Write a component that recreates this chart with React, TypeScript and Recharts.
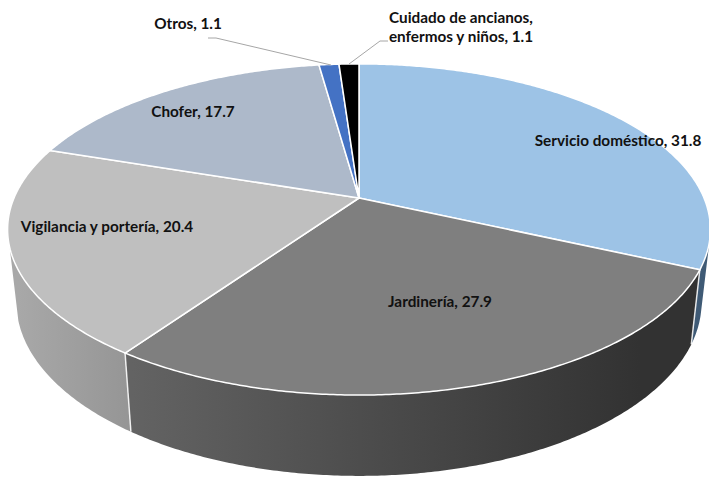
import { PieChart, Pie } from "recharts";

const categories = [
  "Servicio doméstico",
  "Jardinería",
  "Vigilancia y portería",
  "Chofer",
  "Otros",
  "Cuidado de ancianos, enfermos y niños",
];
const shares = [31.8, 27.9, 20.4, 17.7, 1.1, 1.1];
const topColors = ["#9DC3E6", "#7F7F7F", "#BFBFBF", "#ADB9CA", "#4472C4", "#000000"];
const wallColors = ["#3F5A75", "url(#wallDark)", "url(#wallLight)", "#6B7380", "#2A4577", "#000000"];

// where each label sits, same order as categories
const labelSpots = [
  { x: 618, y: 146 },
  { x: 440, y: 307 },
  { x: 107, y: 232 },
  { x: 193, y: 117 },
  { x: 188, y: 29 },
  { x: 461, y: 23 },
];

const table = categories.map((name, i) => ({
  name,
  value: shares[i],
  fill: topColors[i],
  wall: wallColors[i],
}));

// the top of the pie is a tilted disc seen in perspective, so the apex is not the ellipse centre
const APEX_X = 359;
const APEX_Y = 198;
const RX = 345;
const RY = 159.6;
const DEPTH = 0.19;
// bottom rim of the wall
const BASE_Y = 269;
const BASE_SX = 0.975;
const BASE_SY = 1.05;
// part of the wall that faces the viewer, degrees clockwise from 12 o'clock
const WALL_FROM = 105;
const WALL_TO = 253;

const rim = (deg: number, base = false) => {
  const t = (deg * Math.PI) / 180;
  const x = Math.sin(t);
  const y = Math.cos(t);
  const s = 1 / (1 + DEPTH * y);
  if (base) return [APEX_X + RX * x * s * BASE_SX, BASE_Y - RY * y * s * BASE_SY];
  return [APEX_X + RX * x * s, APEX_Y - RY * y * s];
};

const arc = (from: number, to: number, base = false) => {
  const n = Math.max(2, Math.ceil(Math.abs(to - from) * 2));
  const pts = [];
  for (let i = 0; i <= n; i++) pts.push(rim(from + ((to - from) * i) / n, base));
  return pts;
};

const toPath = (pts: number[][]) =>
  pts.map((p, i) => `${i ? "L" : "M"}${p[0].toFixed(2)} ${p[1].toFixed(2)}`).join(" ");

const TopFace = (props: any) => {
  const from = 90 - props.startAngle;
  const to = 90 - props.endAngle;
  const d = `M${APEX_X} ${APEX_Y} ` + toPath(arc(from, to)).replace("M", "L") + " Z";
  return <path d={d} fill={props.fill} stroke="#fff" strokeWidth={1.5} strokeLinejoin="round" />;
};

const WallFace = (props: any) => {
  const from = Math.max(90 - props.startAngle, WALL_FROM);
  const to = Math.min(90 - props.endAngle, WALL_TO);
  if (to <= from) return <g />;
  const pts = [...arc(from, to), ...arc(to, from, true)];
  const a = rim(from);
  const b = rim(from, true);
  return (
    <g>
      <path d={toPath(pts) + " Z"} fill={props.wall ?? props.payload?.wall} />
      {from > WALL_FROM && (
        <line x1={a[0]} y1={a[1]} x2={b[0]} y2={b[1]} stroke="#fff" strokeOpacity={0.85} strokeWidth={1.5} />
      )}
    </g>
  );
};

const leaderLines: Record<number, string> = {
  4: "208,38 216,38 331,65",
  5: "388,41 380,41 349,64",
};

const SliceLabel = (props: any) => {
  const spot = labelSpots[props.index];
  const common = {
    textAnchor: "middle" as const,
    fontFamily: "Lato, sans-serif",
    fontSize: 15.3,
    fontWeight: 700,
    fill: "#111",
  };
  if (props.index === 5) {
    return (
      <text {...common} x={spot.x} y={spot.y}>
        <tspan x={spot.x}>Cuidado de ancianos,</tspan>
        <tspan x={spot.x} dy={19}>{`enfermos y niños, ${shares[5]}`}</tspan>
      </text>
    );
  }
  return (
    <text {...common} x={spot.x} y={spot.y}>
      {`${categories[props.index]}, ${shares[props.index]}`}
    </text>
  );
};

const SliceLeader = (props: any) => {
  const pts = leaderLines[props.index];
  if (!pts) return <g />;
  return <polyline points={pts} fill="none" stroke="#A6A6A6" strokeWidth={1} />;
};

export default function App() {
  return (
    <div style={{ position: "absolute", left: 0, top: 0, width: 709, height: 478, background: "#fff" }}>
      <PieChart width={709} height={478} margin={{ top: 0, right: 0, bottom: 0, left: 0 }}>
        <defs>
          <linearGradient id="wallDark" gradientUnits="userSpaceOnUse" x1={132} y1={0} x2={640} y2={0}>
            <stop offset="0" stopColor="#636363" />
            <stop offset="1" stopColor="#323232" />
          </linearGradient>
          <linearGradient id="wallLight" gradientUnits="userSpaceOnUse" x1={18} y1={0} x2={132} y2={0}>
            <stop offset="0" stopColor="#A8A8A8" />
            <stop offset="1" stopColor="#959595" />
          </linearGradient>
        </defs>
        <Pie
          data={table}
          dataKey="value"
          cx={APEX_X}
          cy={APEX_Y}
          outerRadius={134}
          startAngle={90}
          endAngle={-270}
          shape={WallFace}
          isAnimationActive={false}
        />
        <Pie
          data={table}
          dataKey="value"
          cx={APEX_X}
          cy={APEX_Y}
          outerRadius={134}
          startAngle={90}
          endAngle={-270}
          shape={TopFace}
          label={SliceLabel}
          labelLine={SliceLeader}
          isAnimationActive={false}
        />
      </PieChart>
    </div>
  );
}
